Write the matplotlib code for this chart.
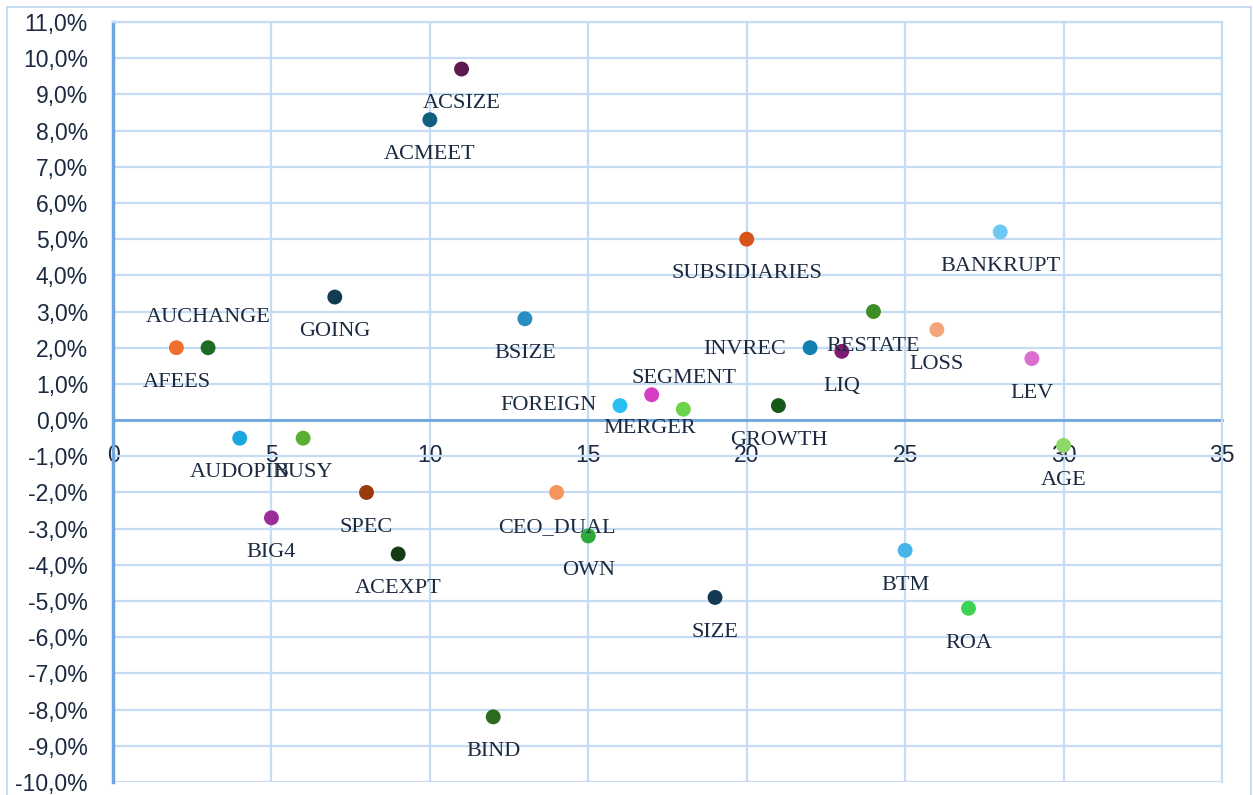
import numpy as np
import matplotlib.pyplot as plt
from matplotlib.ticker import FuncFormatter, MultipleLocator
from matplotlib.lines import Line2D

# Variable names, x position and effect (in %)
labels = ['AFEES', 'AUCHANGE', 'AUDOPIN', 'BIG4', 'BUSY', 'GOING', 'SPEC', 'ACEXPT',
          'ACMEET', 'ACSIZE', 'BIND', 'BSIZE', 'CEO_DUAL', 'OWN', 'FOREIGN', 'SEGMENT',
          'MERGER', 'SIZE', 'SUBSIDIARIES', 'GROWTH', 'INVREC', 'LIQ', 'RESTATE', 'BTM',
          'LOSS', 'ROA', 'BANKRUPT', 'LEV', 'AGE']
x_vals = [2, 3, 4, 5, 6, 7, 8, 9, 10, 11, 12, 13, 14, 15, 16, 17, 18, 19, 20, 21,
          22, 23, 24, 25, 26, 27, 28, 29, 30]
y_vals = [2.0, 2.0, -0.5, -2.7, -0.5, 3.4, -2.0, -3.7, 8.3, 9.7, -8.2, 2.8, -2.0, -3.2,
          0.4, 0.7, 0.3, -4.9, 5.0, 0.4, 2.0, 1.9, 3.0, -3.6, 2.5, -5.2, 5.2, 1.7, -0.7]
colors = ['#f07030', '#1e6b23', '#1aa7e0', '#9b2d9b', '#5aae32', '#123c52', '#9a3a0c',
          '#143d14', '#0f5f80', '#5c1a4f', '#2f6b1f', '#2a8dc2', '#f4955e', '#2caa3a',
          '#28bff2', '#d53dc4', '#6cd34a', '#123a55', '#d9541a', '#145a18', '#1380b4',
          '#7e1c72', '#3e8e27', '#47b5e8', '#f4a47c', '#3dd352', '#6ec9f2', '#dc6ed0',
          '#8ed86a']

# label placement: offset in points (dx, dy) and horizontal alignment
below = (0, -25, 'center')
label_pos = {lab: below for lab in labels}
label_pos['AUCHANGE'] = (0, 22, 'center')
label_pos['FOREIGN'] = (-17, 0, 'right')
label_pos['INVREC'] = (-17, -1, 'right')
label_pos['SEGMENT'] = (23, 12, 'center')
label_pos['MERGER'] = (-24, -14, 'center')

grid_c = '#c6dcf2'
axis_c = '#6fa6de'
text_c = '#1b2a41'

fig = plt.figure(figsize=(12.53, 7.95), dpi=100)
ax = fig.add_axes([113 / 1253, 13 / 795, 1109 / 1253, 760 / 795])

ax.scatter(x_vals, y_vals, s=115, c=colors, zorder=3, linewidths=0)

for lab, x, y in zip(labels, x_vals, y_vals):
    dx, dy, ha = label_pos[lab]
    ax.annotate(lab, (x, y), xytext=(dx, dy), textcoords='offset points',
                ha=ha, va='center', fontsize=16, color=text_c,
                family='Liberation Serif', zorder=4)

ax.set_xlim(0, 35)
ax.set_ylim(-10, 11)
ax.xaxis.set_major_locator(MultipleLocator(5))
ax.yaxis.set_major_locator(MultipleLocator(1))
ax.yaxis.set_major_formatter(FuncFormatter(lambda v, p: f'{v:.1f}%'.replace('.', ',')))

ax.grid(True, color=grid_c, linewidth=1.6, zorder=0)
ax.set_axisbelow(True)

ax.spines['bottom'].set_position(('data', 0))
ax.spines['bottom'].set_color(axis_c)
ax.spines['bottom'].set_linewidth(2)
ax.spines['bottom'].set_zorder(1)
ax.spines['left'].set_color(axis_c)
ax.spines['left'].set_linewidth(2.5)
ax.spines['top'].set_color(grid_c)
ax.spines['right'].set_color(grid_c)
ax.spines['top'].set_linewidth(1.6)
ax.spines['right'].set_linewidth(1.6)

ax.tick_params(axis='both', length=0, labelsize=16.5, labelcolor=text_c)
ax.tick_params(axis='y', pad=18)
ax.tick_params(axis='x', pad=17)
for t in ax.get_xticklabels() + ax.get_yticklabels():
    t.set_family('Liberation Sans')

# light outer chart border: left, top, right (bottom edge is cut off in the original)
top = 1 - 7 / 795
for xs, ys in [([7, 7], [0, top]), ([7, 1251], [top, top]), ([1251, 1251], [0, top])]:
    fig.add_artist(Line2D(np.array(xs) / 1253, ys, color=grid_c, linewidth=1.4))

plt.savefig('out.png', dpi=100)
